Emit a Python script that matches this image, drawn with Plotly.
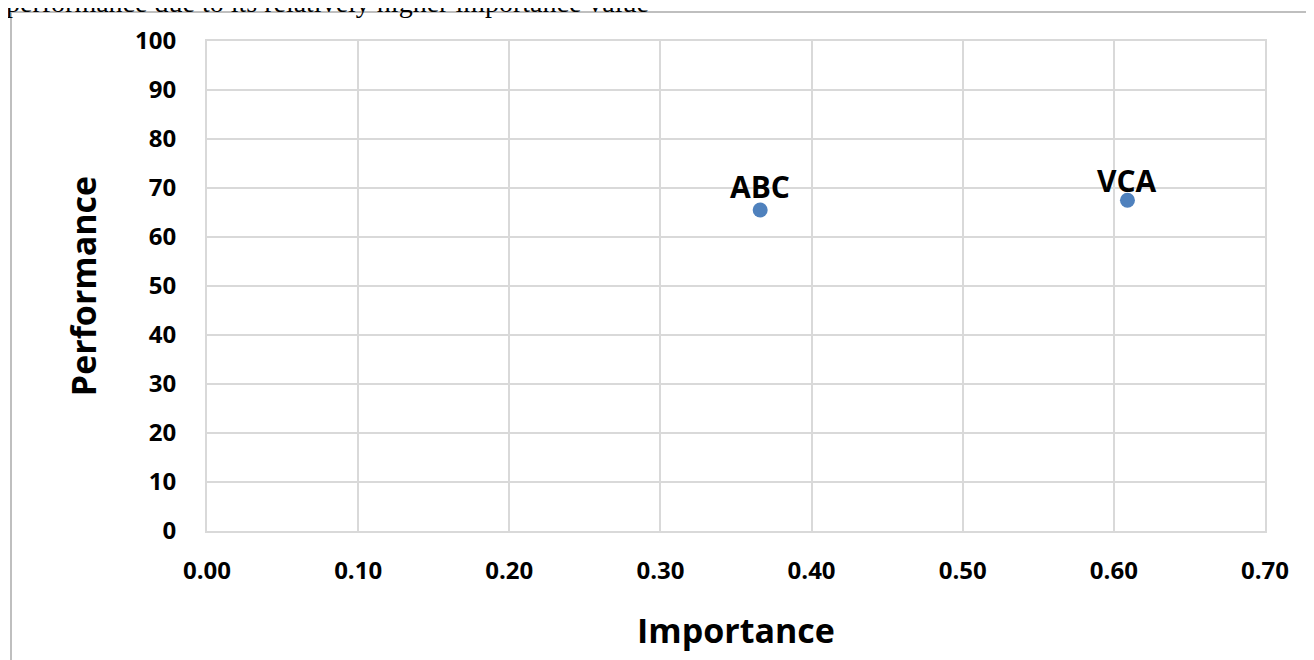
import plotly.graph_objects as go

names = ["ABC", "VCA"]
importance = [0.366, 0.609]
performance = [65.5, 67.5]

x_ticks = [0.0, 0.1, 0.2, 0.3, 0.4, 0.5, 0.6, 0.7]
y_ticks = [0, 10, 20, 30, 40, 50, 60, 70, 80, 90, 100]

# page has an 8px body margin; figure coordinates are page - 8
W, H = 1306, 652
L, T = 199, 33
pw, ph = 1058, 490
R = W - L - pw
B = H - T - ph

def fx(px):  # figure pixel x -> paper
    return (px - L) / pw

def fy(py):  # figure pixel y -> paper
    return (H - B - py) / ph

fig = go.Figure()
fig.add_trace(go.Scatter(
    x=importance, y=performance, mode="markers",
    marker=dict(size=15, color="#4f81bd"),
    cliponaxis=False, showlegend=False, hoverinfo="x+y",
))

label_shift = [24, 20]
for name, xv, yv, sh in zip(names, importance, performance, label_shift):
    fig.add_annotation(x=xv, y=yv, text=name, showarrow=False,
                       xanchor="center", yanchor="middle", yshift=sh,
                       font=dict(family="Open Sans", size=30, color="#000000", weight="bold"))

grid = "#d9d9d9"
tickfont = dict(family="Open Sans", size=24, color="#000000", weight="bold")
titlefont = dict(family="Open Sans", size=34, color="#000000", weight="bold")
fig.update_xaxes(
    range=[0, 0.7], tickvals=x_ticks, tickformat=".2f",
    showgrid=True, gridcolor=grid, gridwidth=2,
    showline=True, linecolor=grid, linewidth=2, mirror=True,
    zeroline=False, tickfont=tickfont, ticklabelstandoff=17,
    title=dict(text="Importance", font=titlefont, standoff=34),
)
fig.update_yaxes(
    range=[0, 100], tickvals=y_ticks,
    showgrid=True, gridcolor=grid, gridwidth=2,
    showline=True, linecolor=grid, linewidth=2, mirror=True,
    zeroline=False, tickfont=tickfont, ticklabelstandoff=24,
    title=dict(text="Performance", font=titlefont, standoff=28),
)

# outer frame (left and top edges visible)
fig.add_shape(type="line", xref="paper", yref="paper",
              x0=fx(3), x1=fx(3), y0=fy(4), y1=fy(H),
              line=dict(color="#bfbfbf", width=2), layer="below")
fig.add_shape(type="line", xref="paper", yref="paper",
              x0=fx(3), x1=fx(W), y0=fy(4), y1=fy(4),
              line=dict(color="#bfbfbf", width=2), layer="below")

fig.add_annotation(xref="paper", yref="paper",
                   x=fx(-4), y=fy(12),
                   xanchor="left", yanchor="bottom", showarrow=False,
                   text="performance due to its relatively higher importance value",
                   font=dict(family="Liberation Serif", size=28, color="#000000"))

fig.update_layout(
    width=W, height=H,
    margin=dict(l=L, r=R, t=T, b=B),
    paper_bgcolor="white", plot_bgcolor="white",
)
fig.write_html("out.html")
